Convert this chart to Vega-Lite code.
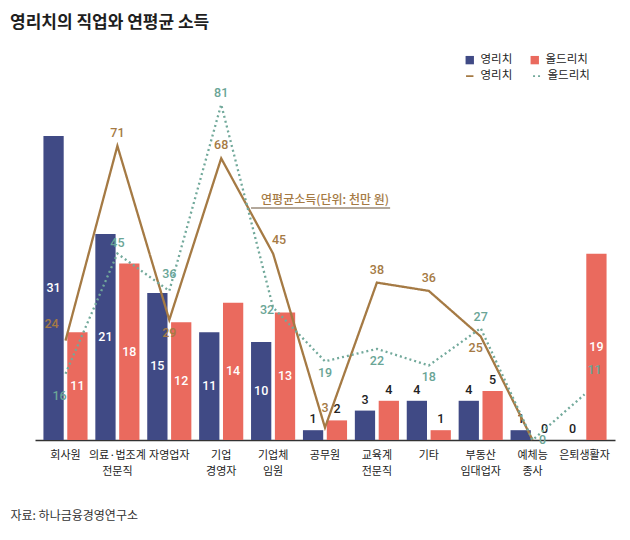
{
  "$schema": "https://vega.github.io/schema/vega-lite/v6.json",
  "width": 580,
  "height": 350,
  "autosize": {"type": "none"},
  "padding": {"left": 35, "top": 90, "right": 15, "bottom": 100},
  "background": "white",
  "title": {"text": "영리치의 직업와 연평균 소득", "anchor": "start", "frame": "group", "dx": -25, "offset": 22, "font": "Noto Sans CJK KR", "fontSize": 17, "fontWeight": "bold", "color": "#1e1e1e"},
  "config": {
    "view": {"stroke": null},
    "legend": {"labelFont": "Noto Sans CJK KR", "labelFontSize": 11.5, "labelColor": "#222", "padding": 0, "symbolSize": 70, "columnPadding": 16, "labelOffset": 5}
  },
  "data": {"values": [
    {"cat": "회사원", "group": "영리치", "share": 31, "income": 24},
    {"cat": "회사원", "group": "올드리치", "share": 11, "income": 16},
    {"cat": "의료·법조계|전문직", "group": "영리치", "share": 21, "income": 71},
    {"cat": "의료·법조계|전문직", "group": "올드리치", "share": 18, "income": 45},
    {"cat": "자영업자", "group": "영리치", "share": 15, "income": 29},
    {"cat": "자영업자", "group": "올드리치", "share": 12, "income": 36},
    {"cat": "기업|경영자", "group": "영리치", "share": 11, "income": 68},
    {"cat": "기업|경영자", "group": "올드리치", "share": 14, "income": 81},
    {"cat": "기업체|임원", "group": "영리치", "share": 10, "income": 45},
    {"cat": "기업체|임원", "group": "올드리치", "share": 13, "income": 32},
    {"cat": "공무원", "group": "영리치", "share": 1, "income": 3},
    {"cat": "공무원", "group": "올드리치", "share": 2, "income": 19},
    {"cat": "교육계|전문직", "group": "영리치", "share": 3, "income": 38},
    {"cat": "교육계|전문직", "group": "올드리치", "share": 4, "income": 22},
    {"cat": "기타", "group": "영리치", "share": 4, "income": 36},
    {"cat": "기타", "group": "올드리치", "share": 1, "income": 18},
    {"cat": "부동산|임대업자", "group": "영리치", "share": 4, "income": 25},
    {"cat": "부동산|임대업자", "group": "올드리치", "share": 5, "income": 27},
    {"cat": "예체능|종사", "group": "영리치", "share": 1, "income": 0},
    {"cat": "예체능|종사", "group": "올드리치", "share": 0, "income": 0},
    {"cat": "은퇴생활자", "group": "영리치", "share": 0, "income": null},
    {"cat": "은퇴생활자", "group": "올드리치", "share": 19, "income": 11}
  ]},
  "encoding": {
    "x": {
      "field": "cat", "type": "nominal",
      "scale": {"type": "band", "domain": ["회사원", "의료·법조계|전문직", "자영업자", "기업|경영자", "기업체|임원", "공무원", "교육계|전문직", "기타", "부동산|임대업자", "예체능|종사", "은퇴생활자"], "paddingInner": 0.15, "paddingOuter": 0.1625},
      "axis": {"title": "자료: 하나금융경영연구소", "titleAnchor": "start", "titleX": -25, "titleY": 75, "titleBaseline": "middle", "titleFont": "Noto Sans CJK KR", "titleFontSize": 12, "titleFontWeight": "normal", "titleColor": "#333", "labelAngle": 0, "labelExpr": "split(datum.label, '|')", "labelFont": "Noto Sans CJK KR", "labelFontSize": 11, "labelColor": "#222", "labelPadding": 9, "labelLineHeight": 16, "ticks": false, "domainColor": "#333", "domainWidth": 1.5, "grid": false}
    }
  },
  "layer": [
    {
      "layer": [
        {
          "mark": {"type": "bar"},
          "encoding": {
            "xOffset": {"field": "group", "type": "nominal", "scale": {"domain": ["영리치", "올드리치"], "paddingInner": 0.15, "paddingOuter": 0}},
            "y": {"field": "share", "type": "quantitative", "scale": {"domain": [0, 35.7], "nice": false}, "axis": null},
            "fill": {"field": "group", "type": "nominal", "scale": {"domain": ["영리치", "올드리치"], "range": ["#404a85", "#ea6a5e"]}, "legend": {"orient": "none", "legendX": 429, "legendY": -36, "direction": "horizontal", "title": null, "symbolType": "square", "symbolStrokeWidth": 0}}
          }
        },
        {
          "transform": [{"filter": "datum.share >= 10"}, {"calculate": "datum.share / 2", "as": "mid"}],
          "mark": {"type": "text", "color": "white", "font": "Roboto", "fontSize": 12.5, "fontWeight": 500, "baseline": "middle"},
          "encoding": {
            "xOffset": {"field": "group", "type": "nominal", "scale": {"domain": ["영리치", "올드리치"], "paddingInner": 0.15, "paddingOuter": 0}},
            "y": {"field": "mid", "type": "quantitative"},
            "text": {"field": "share", "type": "quantitative"}
          }
        },
        {
          "transform": [{"filter": "datum.share < 10"}],
          "mark": {"type": "text", "color": "#222", "font": "Roboto", "fontSize": 12.5, "fontWeight": 500, "baseline": "bottom", "dy": -4},
          "encoding": {
            "xOffset": {"field": "group", "type": "nominal", "scale": {"domain": ["영리치", "올드리치"], "paddingInner": 0.15, "paddingOuter": 0}},
            "y": {"field": "share", "type": "quantitative"},
            "text": {"field": "share", "type": "quantitative"}
          }
        }
      ]
    },
    {
      "transform": [{"calculate": "datum.group + ' '", "as": "series"}],
      "layer": [
        {
          "mark": {"type": "line", "strokeWidth": 2.3},
          "encoding": {
            "y": {"field": "income", "type": "quantitative", "scale": {"domain": [0, 84.5], "nice": false}, "axis": null},
            "stroke": {"field": "series", "type": "nominal", "scale": {"domain": ["영리치 ", "올드리치 "], "range": ["#a57a44", "#72a99b"]}, "legend": {"orient": "none", "legendX": 429, "legendY": -20, "direction": "horizontal", "title": null, "symbolType": "stroke", "symbolStrokeWidth": 1.8, "symbolSize": 55}},
            "strokeDash": {"field": "series", "type": "nominal", "scale": {"domain": ["영리치 ", "올드리치 "], "range": [[1, 0], [2, 3]]}, "legend": {"orient": "none", "legendX": 429, "legendY": -20, "direction": "horizontal", "title": null, "symbolType": "stroke", "symbolStrokeWidth": 1.8, "symbolSize": 55}}
          }
        },
        {
          "transform": [{"filter": "datum.group == '영리치' && indexof(['의료·법조계|전문직', '기업|경영자', '교육계|전문직', '기타'], datum.cat) >= 0"}],
          "mark": {"type": "text", "color": "#a57a44", "font": "Roboto", "fontSize": 12.5, "fontWeight": 500, "baseline": "middle", "dy": -13},
          "encoding": {"y": {"field": "income", "type": "quantitative"}, "text": {"field": "income", "type": "quantitative"}}
        },
        {
          "transform": [{"filter": "datum.group == '영리치' && datum.cat == '기업체|임원'"}],
          "mark": {"type": "text", "color": "#a57a44", "font": "Roboto", "fontSize": 12.5, "fontWeight": 500, "baseline": "middle", "dx": 6, "dy": -14},
          "encoding": {"y": {"field": "income", "type": "quantitative"}, "text": {"field": "income", "type": "quantitative"}}
        },
        {
          "transform": [{"filter": "datum.group == '영리치' && datum.cat == '회사원'"}],
          "mark": {"type": "text", "color": "#a57a44", "font": "Roboto", "fontSize": 12.5, "fontWeight": 500, "baseline": "middle", "dx": -14, "dy": -17},
          "encoding": {"y": {"field": "income", "type": "quantitative"}, "text": {"field": "income", "type": "quantitative"}}
        },
        {
          "transform": [{"filter": "datum.group == '영리치' && datum.cat == '자영업자'"}],
          "mark": {"type": "text", "color": "#a57a44", "font": "Roboto", "fontSize": 12.5, "fontWeight": 500, "baseline": "middle", "dy": 13},
          "encoding": {"y": {"field": "income", "type": "quantitative"}, "text": {"field": "income", "type": "quantitative"}}
        },
        {
          "transform": [{"filter": "datum.group == '영리치' && datum.cat == '부동산|임대업자'"}],
          "mark": {"type": "text", "color": "#a57a44", "font": "Roboto", "fontSize": 12.5, "fontWeight": 500, "baseline": "middle", "dx": -5, "dy": 12},
          "encoding": {"y": {"field": "income", "type": "quantitative"}, "text": {"field": "income", "type": "quantitative"}}
        },
        {
          "transform": [{"filter": "datum.group == '영리치' && datum.cat == '공무원'"}],
          "mark": {"type": "text", "color": "#a57a44", "font": "Roboto", "fontSize": 12.5, "fontWeight": 500, "baseline": "middle", "dy": -20},
          "encoding": {"y": {"field": "income", "type": "quantitative"}, "text": {"field": "income", "type": "quantitative"}}
        },
        {
          "transform": [{"filter": "datum.group == '올드리치' && indexof(['의료·법조계|전문직', '기업|경영자', '부동산|임대업자'], datum.cat) >= 0"}],
          "mark": {"type": "text", "color": "#6aa596", "font": "Roboto", "fontSize": 12.5, "fontWeight": 500, "baseline": "middle", "dy": -11},
          "encoding": {"y": {"field": "income", "type": "quantitative"}, "text": {"field": "income", "type": "quantitative"}}
        },
        {
          "transform": [{"filter": "datum.group == '올드리치' && datum.cat == '자영업자'"}],
          "mark": {"type": "text", "color": "#6aa596", "font": "Roboto", "fontSize": 12.5, "fontWeight": 500, "baseline": "middle", "dy": -17},
          "encoding": {"y": {"field": "income", "type": "quantitative"}, "text": {"field": "income", "type": "quantitative"}}
        },
        {
          "transform": [{"filter": "datum.group == '올드리치' && indexof(['공무원', '교육계|전문직', '기타'], datum.cat) >= 0"}],
          "mark": {"type": "text", "color": "#6aa596", "font": "Roboto", "fontSize": 12.5, "fontWeight": 500, "baseline": "middle", "dy": 12},
          "encoding": {"y": {"field": "income", "type": "quantitative"}, "text": {"field": "income", "type": "quantitative"}}
        },
        {
          "transform": [{"filter": "datum.group == '올드리치' && datum.cat == '회사원'"}],
          "mark": {"type": "text", "color": "#6aa596", "font": "Roboto", "fontSize": 12.5, "fontWeight": 500, "baseline": "middle", "dx": -6, "dy": 22},
          "encoding": {"y": {"field": "income", "type": "quantitative"}, "text": {"field": "income", "type": "quantitative"}}
        },
        {
          "transform": [{"filter": "datum.group == '올드리치' && datum.cat == '기업체|임원'"}],
          "mark": {"type": "text", "color": "#6aa596", "font": "Roboto", "fontSize": 12.5, "fontWeight": 500, "baseline": "middle", "dx": -6, "dy": 3},
          "encoding": {"y": {"field": "income", "type": "quantitative"}, "text": {"field": "income", "type": "quantitative"}}
        },
        {
          "transform": [{"filter": "datum.group == '올드리치' && datum.cat == '예체능|종사'"}],
          "mark": {"type": "text", "color": "#6aa596", "font": "Roboto", "fontSize": 12.5, "fontWeight": 500, "baseline": "middle", "dx": 10, "dy": 0},
          "encoding": {"y": {"field": "income", "type": "quantitative"}, "text": {"field": "income", "type": "quantitative"}}
        },
        {
          "transform": [{"filter": "datum.group == '올드리치' && datum.cat == '은퇴생활자'"}],
          "mark": {"type": "text", "color": "#6aa596", "font": "Roboto", "fontSize": 12.5, "fontWeight": 500, "baseline": "middle", "dx": 10, "dy": -24},
          "encoding": {"y": {"field": "income", "type": "quantitative"}, "text": {"field": "income", "type": "quantitative"}}
        },
        {
          "data": {"values": [{}]},
          "mark": {"type": "rule", "color": "#9a8b7a", "strokeWidth": 1.5},
          "encoding": {"x": {"datum": "기업체|임원", "bandPosition": 0}, "x2": {"datum": "교육계|전문직", "bandPosition": 0.8}, "y": {"datum": 56}}
        },
        {
          "data": {"values": [{}]},
          "mark": {"type": "text", "color": "#a57a44", "font": "Noto Sans CJK KR", "fontSize": 12, "fontWeight": 500, "baseline": "middle"},
          "encoding": {"x": {"datum": "공무원"}, "y": {"datum": 58}, "text": {"value": "연평균소득(단위: 천만 원)"}}
        }
      ]
    }
  ],
  "resolve": {"scale": {"y": "independent"}}
}
